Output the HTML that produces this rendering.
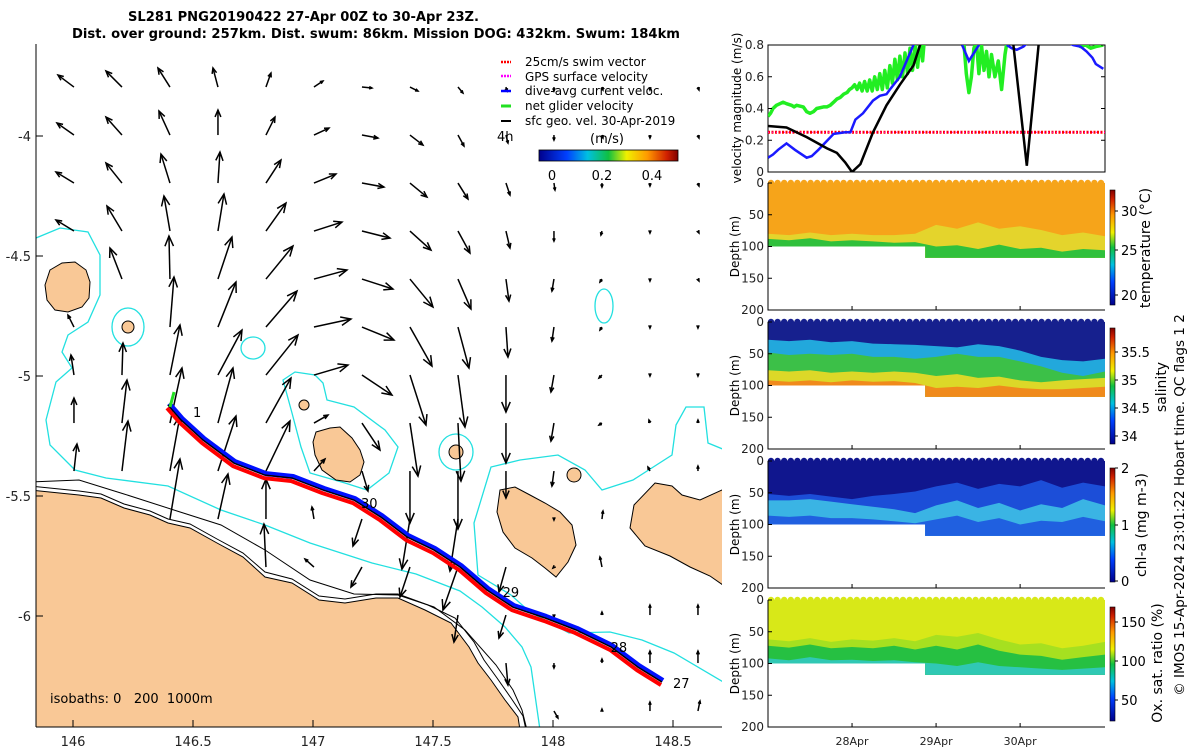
<!DOCTYPE html>
<html><head><meta charset="utf-8"><title>SL281 glider</title>
<style>
html,body{margin:0;padding:0;background:#fff;}
svg{display:block;font-family:"DejaVu Sans","Liberation Sans",sans-serif;}
</style></head>
<body>
<svg id="fig" width="1200" height="750" viewBox="0 0 1200 750" xmlns="http://www.w3.org/2000/svg">
<defs>
<linearGradient id="jetV" x1="0" y1="1" x2="0" y2="0">
<stop offset="0" stop-color="#00008b"/><stop offset="0.2" stop-color="#0040ff"/><stop offset="0.35" stop-color="#00c0e0"/><stop offset="0.5" stop-color="#10c040"/><stop offset="0.63" stop-color="#f0f000"/><stop offset="0.78" stop-color="#ff9900"/><stop offset="0.92" stop-color="#d02000"/><stop offset="1" stop-color="#800000"/>
</linearGradient>
<linearGradient id="jetH" x1="0" y1="0" x2="1" y2="0">
<stop offset="0" stop-color="#00008b"/><stop offset="0.2" stop-color="#0040ff"/><stop offset="0.35" stop-color="#00c0e0"/><stop offset="0.5" stop-color="#10c040"/><stop offset="0.63" stop-color="#f0f000"/><stop offset="0.78" stop-color="#ff9900"/><stop offset="0.92" stop-color="#d02000"/><stop offset="1" stop-color="#800000"/>
</linearGradient>
<clipPath id="mapClip"><rect x="36" y="44" width="686" height="683"/></clipPath>
<clipPath id="velClip"><rect x="768" y="45" width="337" height="127"/></clipPath>
</defs>

<text x="128" y="21" font-size="13" font-weight="bold" textLength="351" lengthAdjust="spacingAndGlyphs">SL281 PNG20190422 27-Apr 00Z to 30-Apr 23Z.</text>
<text x="72" y="38" font-size="13" font-weight="bold" textLength="608" lengthAdjust="spacingAndGlyphs">Dist. over ground: 257km. Dist. swum: 86km. Mission DOG: 432km. Swum: 184km</text>

<g id="map" clip-path="url(#mapClip)">
  <polygon fill="#f9c896" stroke="#000" stroke-width="1"
    points="30,490 79,495 101,498 124,508 150,515 168,523 190,528 217,543 243,557 265,577 292,583 319,600 345,603 376,598 398,598 425,610 451,623 469,647 478,663 491,680 505,700 518,717 520,730 30,730"/>
  <polyline fill="none" stroke="#000" stroke-width="1"
    points="30,486 79,491 101,494 124,504 150,511 168,519 190,524 217,539 243,553 265,572 292,579 319,596 345,599 376,594 398,594 428,605 455,618 474,642 484,660 497,678 511,698 523,716 526,730"/>
  <polyline fill="none" stroke="#000" stroke-width="1"
    points="30,482 79,480 124,494 177,511 221,525 265,550 310,580 354,594 398,595 434,607 465,630 496,665 513,690 522,710 527,730"/>
  <polyline fill="none" stroke="#22e0e0" stroke-width="1.3"
    points="36,238 60,228 88,232 100,255 100,295 88,322 68,335 62,352 72,368 56,382 46,420 50,445 75,470 106,478 168,486 221,510 265,525 310,543 372,563 416,574 460,591 482,607 505,627 522,647 531,667 540,730"/>
  <polyline fill="none" stroke="#22e0e0" stroke-width="1.3"
    points="725,450 708,443 704,407 686,407 676,425 672,455 633,480 602,490 585,470 558,455 520,460 491,467 474,523 478,575 511,595 530,612 569,633 610,632 642,640 674,653 725,683"/>
  <polygon fill="none" stroke="#22e0e0" stroke-width="1.3"
    points="283,380 295,372 315,375 323,383 327,400 354,407 385,430 398,447 389,473 367,490 345,483 310,473 301,447 292,413"/>
  <ellipse cx="128" cy="327" rx="16" ry="19" fill="none" stroke="#22e0e0" stroke-width="1.3"/>
  <ellipse cx="253" cy="348" rx="12" ry="11" fill="none" stroke="#22e0e0" stroke-width="1.3"/>
  <ellipse cx="456" cy="452" rx="17" ry="18" fill="none" stroke="#22e0e0" stroke-width="1.3"/>
  <ellipse cx="604" cy="306" rx="9" ry="17" fill="none" stroke="#22e0e0" stroke-width="1.3"/>
  <polygon fill="#f9c896" stroke="#000" stroke-width="1"
    points="50,270 62,263 75,262 86,270 90,282 89,298 82,307 68,312 55,310 47,300 45,285"/>
  <circle cx="128" cy="327" r="6" fill="#f9c896" stroke="#000"/>
  <circle cx="304" cy="405" r="5" fill="#f9c896" stroke="#000"/>
  <polygon fill="#f9c896" stroke="#000" stroke-width="1"
    points="316,432 330,428 340,427 352,438 360,450 364,462 360,475 350,482 336,480 322,470 315,455 313,442"/>
  <circle cx="456" cy="452" r="7" fill="#f9c896" stroke="#000"/>
  <circle cx="574" cy="475" r="7" fill="#f9c896" stroke="#000"/>
  <polygon fill="#f9c896" stroke="#000" stroke-width="1"
    points="500,490 515,487 530,495 545,503 560,512 572,525 576,545 568,562 556,577 545,568 532,558 515,548 503,532 497,512"/>
  <polygon fill="#f9c896" stroke="#000" stroke-width="1"
    points="655,483 672,486 682,495 700,500 722,490 730,490 730,590 710,576 690,567 670,556 645,546 630,528 634,505"/>
  <g id="arrows"></g>
  <g id="track"></g>
</g>

<line x1="36" y1="44" x2="36" y2="727" stroke="#000"/>
<line x1="36" y1="727" x2="722" y2="727" stroke="#000"/>
<g id="mapTicks" font-size="13" fill="#222"></g>
<text x="50" y="703" font-size="13">isobaths:&#160;0&#160;&#160;&#160;200&#160;&#160;1000m</text>

<g id="legend" font-size="12">
  <line x1="501" y1="62" x2="511" y2="62" stroke="#f00" stroke-width="2.5" stroke-dasharray="2,1"/>
  <text x="525" y="66">25cm/s swim vector</text>
  <line x1="501" y1="76" x2="511" y2="76" stroke="#f0f" stroke-width="2.5" stroke-dasharray="2,1"/>
  <text x="525" y="81">GPS surface velocity</text>
  <line x1="501" y1="91" x2="511" y2="91" stroke="#00f" stroke-width="2.5"/>
  <text x="525" y="95">dive-avg current veloc.</text>
  <line x1="501" y1="106" x2="511" y2="106" stroke="#22e022" stroke-width="3"/>
  <text x="525" y="110">net glider velocity</text>
  <line x1="501" y1="121" x2="511" y2="121" stroke="#000" stroke-width="2"/>
  <text x="525" y="125">sfc geo. vel. 30-Apr-2019</text>
  <text x="497" y="141" font-size="13">4h</text>
  <text x="590" y="143" font-size="13">(m/s)</text>
  <rect x="539" y="150" width="139" height="11" fill="url(#jetH)" stroke="#000" stroke-width="0.8"/>
  <text x="552" y="180" font-size="13" text-anchor="middle">0</text>
  <text x="602" y="180" font-size="13" text-anchor="middle">0.2</text>
  <text x="652" y="180" font-size="13" text-anchor="middle">0.4</text>
</g>

<g id="velPanel"></g>
<g id="heat"></g>
<g id="cbars" font-size="13"></g>
<text transform="translate(1184,505) rotate(-90)" font-size="13.5" text-anchor="middle">© IMOS 15-Apr-2024 23:01:22 Hobart time. QC flags 1  2</text>

<script>
// ---------------- MAP DATA ----------------
const lonTicks = [146, 146.5, 147, 147.5, 148, 148.5];
const latTicks = [-4, -4.5, -5, -5.5, -6];
const vecU = [
 [-16,-16,-12,-5,5,9,10,8,5,1,0,1,0,1],
 [-17,-16,-11,0,9,15,16,13,6,2,0,1,0,1],
 [-18,-16,-9,2,15,22,22,17,10,4,1,0,0,1],
 [-18,-15,-6,6,20,28,28,21,12,4,0,-1,0,1],
 [0,-12,-1,14,27,33,31,23,13,3,-2,-2,0,1],
 [-6,0,4,18,31,37,32,22,11,2,-2,-2,0,0],
 [-3,1,10,24,32,34,30,16,7,0,-3,-3,0,0],
 [0,5,12,15,25,14,18,8,3,0,-3,-3,-1,0],
 [3,6,10,18,24,11,6,0,0,0,-2,0,-2,0],
 [0,0,10,10,0,-2,-9,-8,-8,0,0,1,0,0],
 [0,0,0,0,-2,-9,-11,-10,-15,-7,-1,-2,0,0],
 [0,0,0,0,0,0,0,0,-4,-7,0,0,0,0],
 [0,0,0,0,0,0,0,0,0,2,0,0,0,0],
 [0,0,0,0,0,0,0,0,0,0,4,0,0,2]];
const vecV = [
 [12,16,19,19,14,6,-1,-4,-6,-4,-4,-3,-3,-3],
 [12,18,24,25,18,7,-3,-10,-11,-8,-5,-3,-3,-3],
 [11,20,29,31,23,9,-4,-14,-16,-12,-7,-4,-3,-3],
 [11,25,35,37,28,9,-7,-19,-22,-17,-10,-4,-2,-2],
 [0,31,43,42,33,9,-10,-28,-30,-22,-12,-3,-2,-2],
 [12,0,50,45,36,8,-13,-39,-41,-30,-14,-3,-1,-1],
 [20,32,50,45,40,10,-20,-50,-52,-37,-17,-3,-1,-1],
 [25,43,55,55,45,8,-27,-53,-58,-40,-18,-2,3,3],
 [27,50,55,55,50,12,-20,-52,-58,-27,-15,0,4,5],
 [0,0,60,45,40,12,-27,-50,-52,0,-1,8,0,0],
 [0,0,0,0,43,8,-20,-30,-43,-25,-1,10,0,0],
 [0,0,0,0,0,0,0,0,-27,-23,-2,3,10,10],
 [0,0,0,0,0,0,0,0,0,-22,-5,4,12,12],
 [0,0,0,0,0,0,0,0,0,0,-7,2,9,10]];
const vecLon0 = 146.004, vecLat0 = -3.796, vecStep = 0.2;
const trackLon = [146.396,146.45,146.542,146.671,146.8,146.913,147.042,147.171,147.283,147.392,147.504,147.613,147.725,147.833,147.967,148.096,148.242,148.354,148.454];
const trackLat = [-5.121,-5.183,-5.267,-5.363,-5.413,-5.425,-5.475,-5.517,-5.588,-5.671,-5.725,-5.796,-5.892,-5.963,-6.008,-6.058,-6.129,-6.213,-6.275];
const dayLabels = ["1","30","29","28","27"];
const dayLon = [146.5,147.2,147.79,148.24,148.5];
const dayLat = [-5.17,-5.55,-5.92,-6.15,-6.3];

// ---------------- VELOCITY PANEL DATA ----------------
const greenT = [0,0.03,0.06,0.1,0.18,0.22,0.28,0.31,0.34,0.42,0.46,0.5,0.54,0.58,0.66,0.7,0.74,0.78,0.82,0.86,0.9,0.94,0.97,1.0,1.03,1.06,1.09,1.12,1.15,1.18,1.21,1.24,1.27,1.3,1.33,1.36,1.39,1.42,1.45,1.48,1.51,1.54,1.57,1.6,1.63,1.66,1.69,1.72,1.75,1.78,1.81,1.84,1.87,1.9,null,2.3,2.33,2.36,2.39,2.42,2.45,2.48,2.51,2.54,2.57,2.6,2.63,2.66,2.7,2.74,2.78,2.82,2.85,2.88,null,3.6,3.66,3.72,3.78,3.84,3.9,3.99];
const greenV = [0.35,0.37,0.40,0.42,0.44,0.43,0.42,0.41,0.42,0.41,0.38,0.37,0.38,0.40,0.41,0.41,0.42,0.44,0.46,0.47,0.49,0.50,0.52,0.53,0.55,0.52,0.56,0.51,0.57,0.51,0.58,0.51,0.60,0.52,0.62,0.52,0.64,0.53,0.67,0.56,0.71,0.58,0.73,0.60,0.75,0.62,0.78,0.64,0.80,0.66,0.83,0.70,0.9,1.0,null,1.0,0.82,0.62,0.50,0.60,0.78,0.82,0.62,0.80,0.64,0.76,0.60,0.74,0.60,0.70,0.52,0.74,0.84,1.0,null,1.0,0.81,0.79,0.80,0.78,0.79,0.80];
const blueT = [0,0.06,0.12,0.22,0.32,0.46,0.52,0.6,0.78,0.92,0.98,1.04,1.13,1.25,1.33,1.41,1.45,1.57,1.73,1.81,null,2.31,2.39,2.51,2.56,null,2.84,2.9,2.96,3.04,3.1,null,3.55,3.63,3.72,3.79,3.86,3.9,3.99];
const blueV = [0.09,0.11,0.14,0.18,0.14,0.09,0.10,0.14,0.24,0.25,0.25,0.33,0.37,0.45,0.48,0.49,0.52,0.60,0.80,1.0,null,0.8,0.70,0.80,0.9,null,0.8,0.78,0.77,0.79,0.82,null,0.82,0.80,0.79,0.76,0.72,0.68,0.65];
const blackT = [0,0.22,0.46,0.7,0.82,0.92,1.0,1.1,1.25,1.41,1.57,1.73,1.81,1.89,null,2.86,2.92,3.08,3.22,3.26];
const blackV = [0.29,0.28,0.22,0.15,0.12,0.06,0.0,0.05,0.25,0.42,0.55,0.67,0.80,1.0,null,1.0,0.8,0.04,0.8,1.0];
const swimSpeed = [0.25, 0.25];
const swimT = [0, 4.01];
const velTicks = [0, 0.2, 0.4, 0.6, 0.8];
const dateTicks = [1, 2, 3];
const dateLabels = ["28Apr", "29Apr", "30Apr"];

// ---------------- PROFILE PANEL DATA ----------------
const profT = [0,0.25,0.5,0.75,1.0,1.25,1.5,1.75,2.0,2.25,2.5,2.75,3.0,3.25,3.5,3.75,4.01];
const bottomT = [0, 1.87, 1.87, 4.01];
const bottomD = [100, 100, 118, 118];
const tempYellow = [80,82,78,82,80,82,82,80,66,72,62,72,68,74,82,78,84];
const tempGreen  = [88,90,87,92,90,92,94,93,100,98,104,97,104,102,108,104,106];
const salCyan   = [28,30,28,32,30,34,35,36,38,40,35,38,45,55,60,62,58];
const salGreen  = [48,52,50,52,50,55,55,58,55,50,55,55,62,70,80,85,78];
const salYellow = [76,78,76,80,78,80,78,80,85,82,88,86,92,95,92,90,88];
const salOrange = [92,94,92,95,92,94,93,96,104,102,104,100,104,106,106,104,102];
const chlBlue   = [52,55,52,56,60,55,52,48,40,34,44,36,40,30,42,34,40];
const chlCyan   = [62,62,60,64,68,72,76,82,70,62,74,66,78,68,74,60,70];
const chlDeep   = [86,88,86,90,90,92,95,98,92,86,96,90,100,94,96,88,95];
const oxA = [62,65,60,66,62,64,60,65,55,58,52,62,70,68,76,72,66];
const oxG = [72,75,70,76,74,76,72,78,72,78,70,80,86,88,94,90,86];
const oxC = [92,95,90,95,94,96,95,98,100,104,98,104,106,108,110,108,106];
const depthTicks = [0, 50, 100, 150, 200];

const NS = "http://www.w3.org/2000/svg";
function mk(tag, attrs, parent) {
  const e = document.createElementNS(NS, tag);
  for (const k in attrs) e.setAttribute(k, attrs[k]);
  parent.appendChild(e);
  return e;
}
const lonX = lon => 73 + (lon - 146) * 240;
const latY = lat => 616 - (lat + 6) * 240;

const mt = document.getElementById('mapTicks');
lonTicks.forEach(v => {
  const x = lonX(v);
  const t = mk('line', {x1: x, y1: 727, x2: x, y2: 720, stroke: '#000'}, mt);
  
  
  const l = mk('text', {x: x, y: 746, 'text-anchor': 'middle'}, mt);
  l.textContent = String(v);
  
  
});
latTicks.forEach(v => {
  const y = latY(v);
  const t = mk('line', {x1: 36, y1: y, x2: 43, y2: y, stroke: '#000'}, mt);
  
  
  const l = mk('text', {x: 31, y: y + 5, 'text-anchor': 'end'}, mt);
  l.textContent = String(v);
  
  
});

const ag = document.getElementById('arrows');
for (let r = 0; r < vecU.length; r++) {
  for (let c = 0; c < vecU[r].length; c++) {
    const u = vecU[r][c], v = vecV[r][c];
    const x0 = lonX(vecLon0 + c * vecStep), y0 = latY(vecLat0 - r * vecStep);
    const len = Math.hypot(u, v);
    if (len < 0.5) continue;
    const x1 = x0 + u, y1 = y0 - v;
    const ang = Math.atan2(y1 - y0, x1 - x0);
    const h = Math.max(3, Math.min(11, len * 0.3));
    const g = mk('g', {stroke: '#000', 'stroke-width': 1.5, fill: 'none'}, ag);
    
    
    mk('line', {x1: x0, y1: y0, x2: x1, y2: y1}, g);
    mk('polyline', {points: `${x1 - h*Math.cos(ang-0.4)},${y1 - h*Math.sin(ang-0.4)} ${x1},${y1} ${x1 - h*Math.cos(ang+0.4)},${y1 - h*Math.sin(ang+0.4)}`}, g);
  }
}

const tg = document.getElementById('track');
const tp = (dx, dy) => trackLon.map((lo, i) => `${lonX(lo)+dx},${latY(trackLat[i])+dy}`).join(' ');
const red = mk('polyline', {points: tp(-1, 3), fill: 'none', stroke: '#f00', 'stroke-width': 4, 'stroke-linejoin': 'round'}, tg);


const blue = mk('polyline', {points: tp(1, -1.5), fill: 'none', stroke: '#0010ff', 'stroke-width': 5, 'stroke-linejoin': 'round'}, tg);


const blk = mk('polyline', {points: tp(0, 0), fill: 'none', stroke: '#000', 'stroke-width': 1.4}, tg);


const gr = mk('line', {x1: lonX(trackLon[0]) + 2, y1: latY(trackLat[0]) + 2, x2: lonX(trackLon[0]) + 6, y2: latY(trackLat[0]) - 13, stroke: '#22e022', 'stroke-width': 3}, tg);


dayLabels.forEach((s, i) => {
  const t = mk('text', {x: lonX(dayLon[i]), y: latY(dayLat[i]), 'font-size': 13}, tg);
  t.textContent = s;
  
  
});

const T0 = 0, T1 = 4.01, PX0 = 768, PX1 = 1105;
const tx = t => PX0 + (t - T0) / (T1 - T0) * (PX1 - PX0);
const vy = v => 172 - v / 0.8 * 127;
const vp = document.getElementById('velPanel');
const vbox = mk('rect', {x: 768, y: 45, width: 337, height: 127, fill: 'none', stroke: '#000'}, vp);


const vclip = mk('g', {'clip-path': 'url(#velClip)'}, vp);
function seriesPath(T, V) {
  let d = '', pen = false;
  T.forEach((t, i) => {
    if (t === null || V[i] === null) { pen = false; return; }
    d += (pen ? 'L' : 'M') + tx(t).toFixed(1) + ',' + vy(V[i]).toFixed(1);
    pen = true;
  });
  return d;
}
const sw = mk('path', {d: seriesPath(swimT, swimSpeed), stroke: '#f00', 'stroke-width': 3, 'stroke-dasharray': '2,1.5', fill: 'none'}, vclip);


const gp = mk('path', {d: seriesPath(swimT, swimSpeed), stroke: '#f0f', 'stroke-width': 1, 'stroke-dasharray': '1,3', fill: 'none'}, vclip);


const gl = mk('path', {d: seriesPath(greenT, greenV), stroke: '#22ee22', 'stroke-width': 3.5, fill: 'none', 'stroke-linejoin': 'round'}, vclip);


const bl = mk('path', {d: seriesPath(blueT, blueV), stroke: '#1a1aff', 'stroke-width': 2.5, fill: 'none'}, vclip);


const kl = mk('path', {d: seriesPath(blackT, blackV), stroke: '#000', 'stroke-width': 2.5, fill: 'none'}, vclip);


velTicks.forEach(v => {
  const y = vy(v);
  mk('line', {x1: 768, y1: y, x2: 772, y2: y, stroke: '#000'}, vp);
  mk('line', {x1: 1101, y1: y, x2: 1105, y2: y, stroke: '#000'}, vp);
  const l = mk('text', {x: 764, y: y + 4, 'text-anchor': 'end', 'font-size': 12, fill: '#222'}, vp);
  l.textContent = String(v);
  
  
});
const vyl = mk('text', {transform: 'translate(741,108) rotate(-90)', 'text-anchor': 'middle', 'font-size': 12}, vp);
vyl.textContent = 'velocity magnitude (m/s)';



const hg = document.getElementById('heat');
const panels = [
  {top: 183, name: 'temperature', base: '#f6a41a', layers: [[tempYellow, '#e4d42c'], [tempGreen, '#30c03c']], dateAxis: false},
  {top: 322, name: 'salinity', base: '#16208e', layers: [[salCyan, '#22a8dc'], [salGreen, '#3cc048'], [salYellow, '#dcd828'], [salOrange, '#f08a1c']], dateAxis: false},
  {top: 461, name: 'chlorophyll', base: '#10168e', layers: [[chlBlue, '#1c4ed8'], [chlCyan, '#3ab4e4'], [chlDeep, '#2060e0']], dateAxis: false},
  {top: 600, name: 'oxygen', base: '#d8e818', layers: [[oxA, '#a6e020'], [oxG, '#26c042'], [oxC, '#30c8b4']], dateAxis: true}
];
panels.forEach((p, pi) => {
  const dy = d => p.top + d / 200 * 127;
  const clipId = 'pc' + pi;
  const cp = mk('clipPath', {id: clipId}, hg);
  const mask = [`${tx(0)},${dy(0)}`, `${tx(T1)},${dy(0)}`];
  for (let i = bottomT.length - 1; i >= 0; i--) mask.push(`${tx(bottomT[i])},${dy(bottomD[i])}`);
  mk('polygon', {points: mask.join(' ')}, cp);
  const g = mk('g', {'clip-path': `url(#${clipId})`}, hg);
  
  
  mk('rect', {x: tx(0), y: dy(0), width: tx(T1) - tx(0), height: dy(130) - dy(0), fill: p.base}, g);
  p.layers.forEach(([arr, col]) => {
    const pts = profT.map((t, i) => `${tx(t).toFixed(1)},${dy(arr[i]).toFixed(1)}`);
    pts.push(`${tx(T1)},${dy(200)}`, `${tx(0)},${dy(200)}`);
    const poly = mk('polygon', {points: pts.join(' '), fill: col}, g);
    
    
  });
  for (let x = tx(0) + 3; x < tx(T1); x += 6.6) mk('circle', {cx: x, cy: dy(0), r: 3.2, fill: p.base}, hg);
  const ax = mk('polyline', {points: `768,${dy(0)} 768,${dy(200)} 1105,${dy(200)}`, fill: 'none', stroke: '#000'}, hg);
  
  
  depthTicks.forEach(d => {
    mk('line', {x1: 768, y1: dy(d), x2: 772, y2: dy(d), stroke: '#000'}, hg);
    const l = mk('text', {x: 764, y: dy(d) + 4, 'text-anchor': 'end', 'font-size': 12, fill: '#222'}, hg);
    l.textContent = String(d);
    
    
  });
  dateTicks.forEach((t, i) => {
    mk('line', {x1: tx(t), y1: dy(200), x2: tx(t), y2: dy(200) - 4, stroke: '#000'}, hg);
    if (p.dateAxis) {
      const l = mk('text', {x: tx(t), y: 745, 'text-anchor': 'middle', 'font-size': 11, fill: '#222'}, hg);
      l.textContent = dateLabels[i];
      
      
    }
  });
  const yl = mk('text', {transform: `translate(739,${dy(100)}) rotate(-90)`, 'text-anchor': 'middle', 'font-size': 12}, hg);
  yl.textContent = 'Depth (m)';
  
  
});

const cb = document.getElementById('cbars');
const cbars = [
  {y0: 190, y1: 305, labels: ['30', '25', '20'], ly: [211, 250, 295], title: 'temperature (°C)', tx: 1150, ty: 248},
  {y0: 328, y1: 444, labels: ['35.5', '35', '34.5', '34'], ly: [352, 380, 408, 436], title: 'salinity', tx: 1166, ty: 387},
  {y0: 468, y1: 582, labels: ['2', '1', '0'], ly: [468, 525, 581], title: 'chl-a (mg m-3)', tx: 1146, ty: 525},
  {y0: 607, y1: 721, labels: ['150', '100', '50'], ly: [622, 661, 700], title: 'Ox. sat. ratio (%)', tx: 1162, ty: 663}
];
cbars.forEach(c => {
  const r = mk('rect', {x: 1110, y: c.y0, width: 5, height: c.y1 - c.y0, fill: 'url(#jetV)', stroke: '#000', 'stroke-width': 0.6}, cb);
  
  
  c.labels.forEach((s, i) => {
    mk('line', {x1: 1115, y1: c.ly[i], x2: 1118, y2: c.ly[i], stroke: '#000'}, cb);
    const l = mk('text', {x: 1121, y: c.ly[i] + 5, 'font-size': 13}, cb);
    l.textContent = s;
    
    
  });
  const t = mk('text', {transform: `translate(${c.tx},${c.ty}) rotate(-90)`, 'text-anchor': 'middle', 'font-size': 14}, cb);
  t.textContent = c.title;
  
  
});
</script>
</body></html>
